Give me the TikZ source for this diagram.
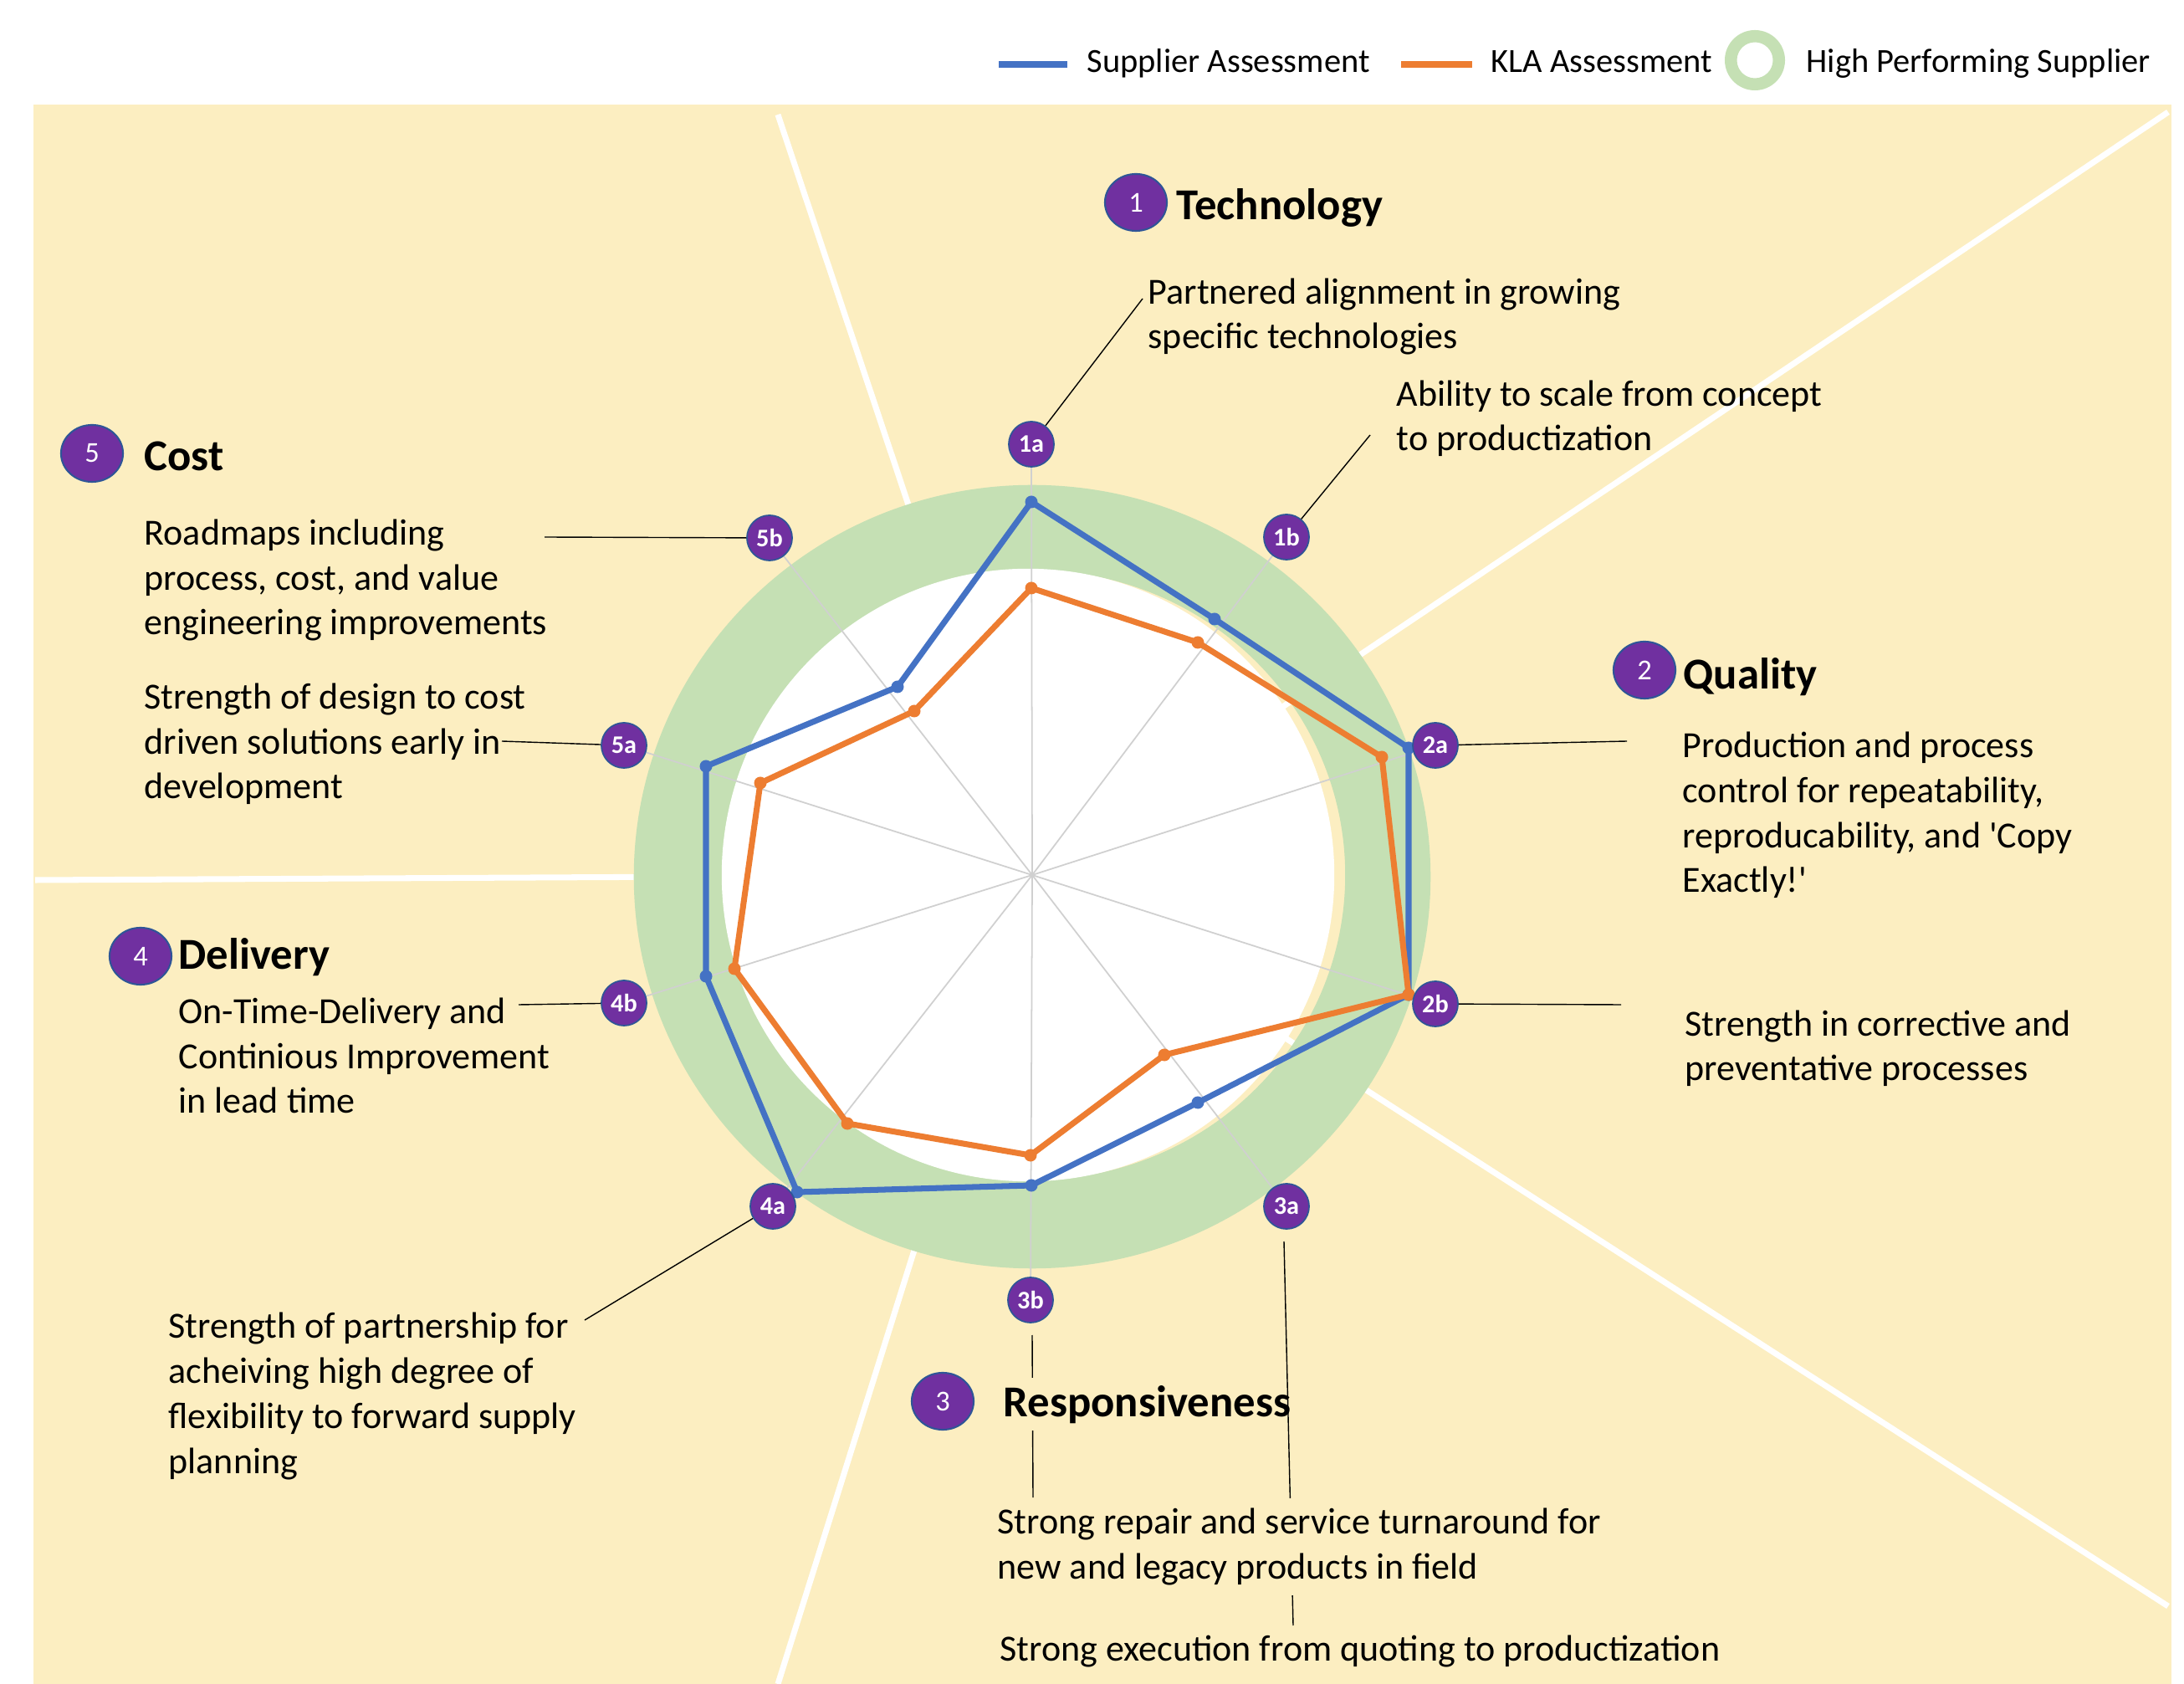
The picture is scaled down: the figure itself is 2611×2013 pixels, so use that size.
\documentclass[tikz,border=0pt]{standalone}
\usepackage{fontspec}
\setmainfont{Carlito}
\usetikzlibrary{shapes.geometric}
\definecolor{cream}{HTML}{FCEEC1}
\definecolor{ringgreen}{HTML}{C5E0B4}
\definecolor{purp}{HTML}{7030A0}
\definecolor{purpb}{HTML}{2F5597}
\definecolor{blueS}{HTML}{4472C4}
\definecolor{orangeK}{HTML}{ED7D31}
\definecolor{spokegray}{HTML}{D0D0D0}
\tikzset{
  body/.style={font=\fontsize{12.52}{15.28}\selectfont, align=left, inner sep=0pt, anchor=base west},
  head/.style={font=\fontsize{15}{18}\selectfont\bfseries, inner sep=0pt, anchor=base west},
  numc/.style={ellipse, fill=purp, draw=purpb, line width=0.6pt, minimum width=0.74cm, minimum height=0.68cm, inner sep=0pt, text=white, font=\fontsize{9.8}{11}\selectfont},
  lab/.style={circle, fill=purp, draw=purpb, line width=0.5pt, minimum size=0.54cm, inner sep=0pt, text=white, font=\fontsize{8.6}{10}\selectfont\bfseries},
  lead/.style={black, line width=0.4pt},
  divider/.style={white, line width=2pt},
  spoke/.style={spokegray, line width=0.5pt},
  ser/.style={line width=2pt, line join=round},
  legtext/.style={font=\fontsize{11.5}{14}\selectfont, inner sep=0pt, anchor=base west}
}
\begin{document}
\begin{tikzpicture}[x=0.01cm,y=-0.01cm]
\useasboundingbox (0,0) rectangle (2611,2013);
\fill[white] (0,0) rectangle (2611,2013);
\fill[cream] (40,125) rectangle (2596,2013);

% center
\coordinate (C) at (1234,1046);
% divider lines
\coordinate (d1) at (930,137);
\coordinate (d2) at (2592,134);
\coordinate (d3) at (2592,1920);
\coordinate (d4) at (930,2013);
\coordinate (d5) at (42,1052);
\foreach \d in {d1,d2,d3,d4,d5} \draw[divider] (C) -- (\d);

% ring
\fill[ringgreen, even odd rule] (1234,1048) circle[x radius=4.76cm, y radius=4.68cm]
   (1236,1046) circle[x radius=3.72cm, y radius=3.64cm];
\fill[white] (1229,1046) circle[radius=3.66cm];

% axis label positions
\coordinate (p1a) at (1233,531);
\coordinate (p1b) at (1538,642);
\coordinate (p2a) at (1716,891);
\coordinate (p2b) at (1716,1200);
\coordinate (p3a) at (1538,1442);
\coordinate (p3b) at (1232,1554);
\coordinate (p4a) at (924,1442);
\coordinate (p4b) at (746,1199);
\coordinate (p5a) at (746,891);
\coordinate (p5b) at (920,643);

% spokes
\foreach \l in {p1a,p1b,p2a,p2b,p3a,p3b,p4a,p4b,p5a,p5b} \draw[spoke] (C) -- (\l);

% series
\coordinate (B1) at (1233,600);  \coordinate (B2) at (1452,740);
\coordinate (B3) at (1684,894);  \coordinate (B4) at (1684,1189);
\coordinate (B5) at (1432,1318); \coordinate (B6) at (1233,1417);
\coordinate (B7) at (953,1425);  \coordinate (B8) at (844,1167);
\coordinate (B9) at (844,916);   \coordinate (B10) at (1073,821);
\coordinate (O1) at (1233,703);  \coordinate (O2) at (1432,768);
\coordinate (O3) at (1652,905);  \coordinate (O4) at (1684,1189);
\coordinate (O5) at (1392,1261); \coordinate (O6) at (1232,1381);
\coordinate (O7) at (1013,1343); \coordinate (O8) at (878,1158);
\coordinate (O9) at (909,936);   \coordinate (O10) at (1093,850);
\draw[ser, blueS] (B1) -- (B2) -- (B3) -- (B4) -- (B5) -- (B6) -- (B7) -- (B8) -- (B9) -- (B10) -- cycle;
\foreach \p in {B1,B2,B3,B4,B5,B6,B7,B8,B9,B10} \fill[blueS] (\p) circle[radius=0.075cm];
\draw[ser, orangeK] (O1) -- (O2) -- (O3) -- (O4) -- (O5) -- (O6) -- (O7) -- (O8) -- (O9) -- (O10) -- cycle;
\foreach \p in {O1,O2,O3,O4,O5,O6,O7,O8,O9,O10} \fill[orangeK] (\p) circle[radius=0.075cm];

% axis labels
\node[lab] (l1a) at (p1a) {1a};
\node[lab] (l1b) at (p1b) {1b};
\node[lab] (l2a) at (p2a) {2a};
\node[lab] (l2b) at (p2b) {2b};
\node[lab] (l3a) at (p3a) {3a};
\node[lab] (l3b) at (p3b) {3b};
\node[lab] (l4a) at (p4a) {4a};
\node[lab] (l4b) at (p4b) {4b};
\node[lab] (l5a) at (p5a) {5a};
\node[lab] (l5b) at (p5b) {5b};

% leader lines
\coordinate (c1a) at (1366,357);
\coordinate (c1b) at (1638,520);
\coordinate (c2a) at (1945,886);
\coordinate (c2b) at (1938,1201);
\coordinate (c4a) at (699,1578);
\coordinate (c4b) at (620,1201);
\coordinate (c5a) at (600,886);
\coordinate (c5b) at (651,642);
\coordinate (c3bs) at (1234,1596);
\coordinate (c3be) at (1235,1790);
\coordinate (c3as) at (1535,1484);
\coordinate (c3ae) at (1546,1943);
\draw[lead] (l1a) -- (c1a);
\draw[lead] (l1b) -- (c1b);
\draw[lead] (l2a) -- (c2a);
\draw[lead] (l2b) -- (c2b);
\draw[lead] (l4a) -- (c4a);
\draw[lead] (l4b) -- (c4b);
\draw[lead] (l5a) -- (c5a);
\draw[lead] (l5b) -- (c5b);
\draw[lead] (c3bs) -- (c3be);

% headings
\node[numc] (n1) at (1358,242) {1};
\node[head] (h1) at (1406,263) {Technology};
\node[numc] (n2) at (1966,801) {2};
\node[head] (h2) at (2012,824) {Quality};
\node[numc] (n3) at (1127,1675) {3};
\node[head, fill=cream, inner xsep=2pt, inner ysep=2.5pt] (h3) at (1192,1693) {Responsiveness};
\node[numc] (n4) at (168,1143) {4};
\node[head] (h4) at (213,1159) {Delivery};
\node[numc] (n5) at (110,542) {5};
\node[head] (h5) at (172,563) {Cost};

\draw[lead] (c3as) -- (c3ae);

% descriptions (anchored at the baseline of the last line)
\node[body] (t1a) at (1372,417) {Partnered alignment in growing\\specific technologies};
\node[body] (t1b) at (1669,539) {Ability to scale from concept\\to productization};
\node[body] (t2a) at (2011,1067) {Production and process\\control for repeatability,\\reproducability, and \textquotesingle Copy\\Exactly!\textquotesingle};
\node[body] (t2b) at (2014,1292) {Strength in corrective and\\preventative processes};
\node[body, fill=cream, inner sep=3.4pt] (t3b) at (1180,1887) {Strong repair and service turnaround for\\new and legacy products in field};
\node[body] (t3a) at (1195,1985) {Strong execution from quoting to productization};
\node[body] (t4b) at (213,1331) {On-Time-Delivery and\\Continious Improvement\\in lead time};
\node[body] (t4a) at (201,1761) {Strength of partnership for\\acheiving high degree of\\flexibility to forward supply\\planning};
\node[body] (t5b) at (172,759) {Roadmaps including\\process, cost, and value\\engineering improvements};
\node[body] (t5a) at (172,955) {Strength of design to cost\\driven solutions early in\\development};

% legend
\coordinate (lb1) at (1194,77); \coordinate (lb2) at (1276,77);
\coordinate (lo1) at (1675,77); \coordinate (lo2) at (1760,77);
\draw[blueS, line width=2pt] (lb1) -- (lb2);
\node[legtext] (lgb) at (1299,87) {Supplier Assessment};
\draw[orangeK, line width=2pt] (lo1) -- (lo2);
\node[legtext] (lgo) at (1782,87) {KLA Assessment};
\fill[ringgreen, even odd rule] (2098,72) circle[radius=0.36cm] (2098,72) circle[radius=0.215cm];
\node[legtext] (lgg) at (2159,87) {High Performing Supplier};
\end{tikzpicture}
\end{document}
